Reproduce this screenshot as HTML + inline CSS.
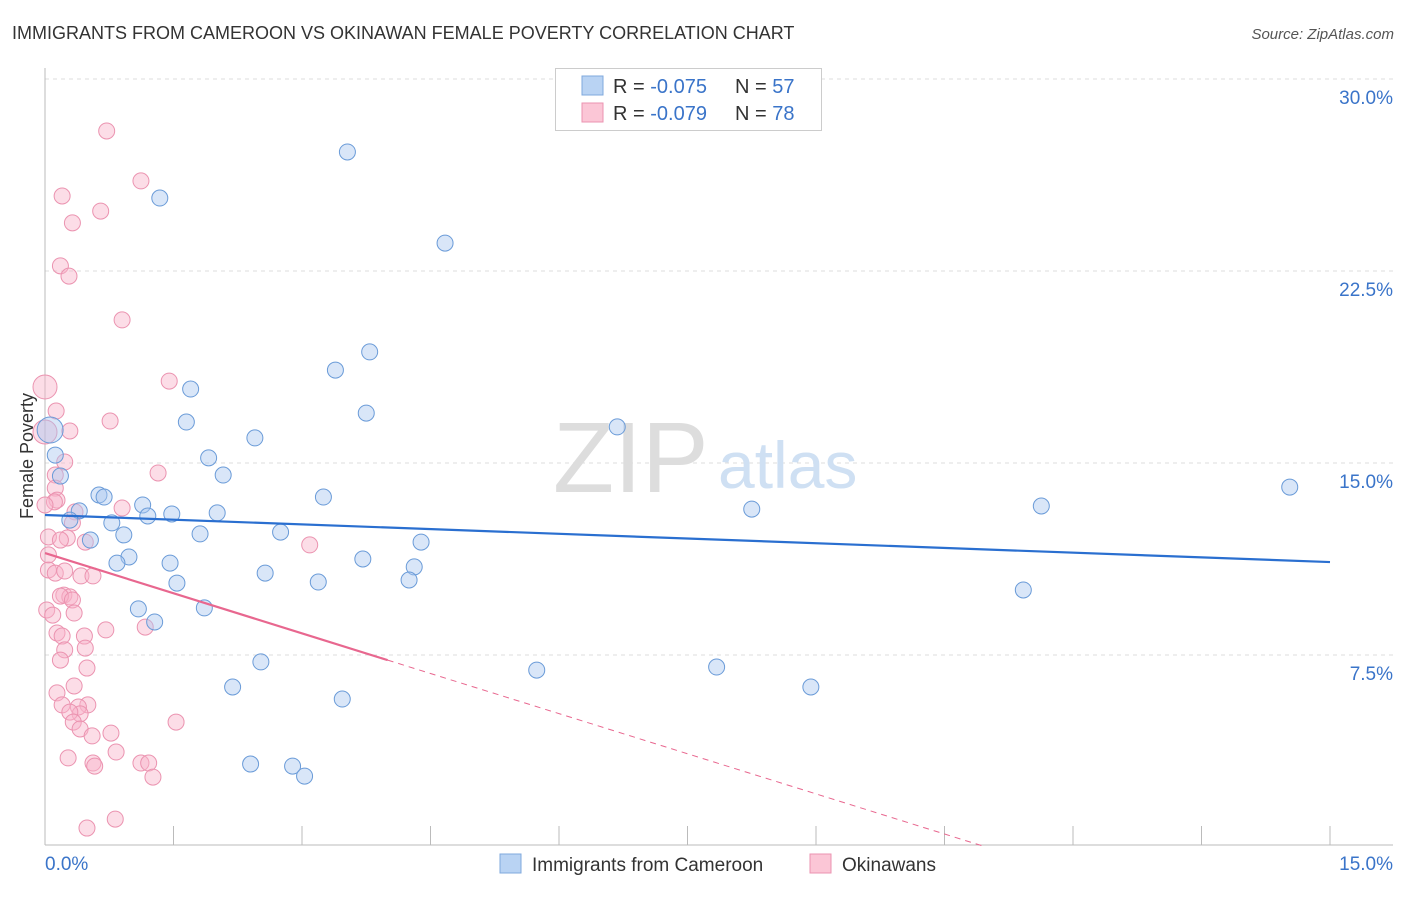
<!DOCTYPE html>
<html><head><meta charset="utf-8">
<style>
body{margin:0;background:#fff;font-family:"Liberation Sans",sans-serif;}
svg text{font-family:"Liberation Sans",sans-serif;}
</style></head>
<body>
<svg id="chart" width="1406" height="892">
<text x="12" y="39" font-size="18" fill="#333">IMMIGRANTS FROM CAMEROON VS OKINAWAN FEMALE POVERTY CORRELATION CHART</text>
<text x="1394" y="39" font-size="15" fill="#555" font-style="italic" text-anchor="end">Source: ZipAtlas.com</text>
<text x="33" y="456" font-size="18" fill="#333" text-anchor="middle" transform="rotate(-90 33 456)">Female Poverty</text>
<g id="grid"></g>
<text x="553" y="492" font-size="100" fill="#ddd" font-family="Liberation Serif">ZIP</text>
<text x="718" y="488" font-size="66" fill="#cfe0f3">atlas</text>
<g id="marks"></g>
<g>
<rect x="555.5" y="68.5" width="266" height="62" fill="#fff" stroke="#ccc"/>
<rect x="582" y="76" width="21" height="19" fill="#b9d3f3" stroke="#7fa8dd"/>
<rect x="582" y="103" width="21" height="19" fill="#fbc6d6" stroke="#eb93b0"/>
<text x="613" y="93" font-size="20" fill="#333">R = <tspan fill="#3a74c9">-0.075</tspan><tspan x="735">N = </tspan><tspan fill="#3a74c9">57</tspan></text>
<text x="613" y="120" font-size="20" fill="#333">R = <tspan fill="#3a74c9">-0.079</tspan><tspan x="735">N = </tspan><tspan fill="#3a74c9">78</tspan></text>
</g>
<g>
<rect x="500" y="854" width="21" height="19" fill="#b9d3f3" stroke="#7fa8dd"/>
<text x="532" y="871" font-size="19" fill="#333">Immigrants from Cameroon</text>
<rect x="810" y="854" width="21" height="19" fill="#fbc6d6" stroke="#eb93b0"/>
<text x="842" y="871" font-size="19" fill="#333">Okinawans</text>
</g>
</svg>
<script>
const yTicks=[7.5,15,22.5,30];
const yTickLabels=["7.5%","15.0%","22.5%","30.0%"];
const xTickLabels=["0.0%","15.0%"];
const blueX=[3.53,1.34,4.67,3.79,3.39,1.70,3.75,1.65,6.68,2.45,1.91,2.08,0.18,0.63,0.69,3.25,1.14,2.01,1.48,1.20,0.40,0.29,0.78,2.75,1.81,0.92,0.53,4.39,0.98,3.71,1.46,0.84,4.31,2.57,4.25,1.54,3.19,1.09,1.86,1.28,2.52,2.19,3.47,5.74,7.84,8.94,2.40,2.89,3.03,8.25,11.63,11.42,14.53,0.12,0.06];
const blueY=[27.15,25.35,23.59,19.34,18.63,17.89,16.95,16.60,16.41,15.98,15.20,14.53,14.49,13.75,13.67,13.67,13.36,13.05,13.01,12.93,13.13,12.77,12.66,12.30,12.23,12.19,11.99,11.91,11.33,11.25,11.09,11.09,10.94,10.70,10.43,10.31,10.35,9.30,9.34,8.79,7.23,6.25,5.78,6.91,7.03,6.25,3.24,3.16,2.77,13.20,13.32,10.04,14.06,15.31,16.29];
const pinkX=[0.72,1.12,0.20,0.65,0.32,0.18,0.28,0.90,1.45,0.0,0.13,0.76,0.0,0.29,0.23,1.32,0.12,0.12,0.14,0.11,0,0.90,0.35,0.32,0.04,0.26,0.47,0.18,3.09,0.04,0.12,0.23,0.42,0.56,0.22,0.29,0.18,0.32,0.02,0.09,0.34,0.71,1.17,0.14,0.20,0.46,0.47,0.23,0.18,0.49,0.34,0.14,0.50,0.39,0.20,0.41,0.29,1.53,0.33,0.41,0.55,0.77,0.83,0.27,0.56,0.58,1.12,1.21,1.26,0.49,0.82,0.04];
const pinkY=[27.97,26.02,25.43,24.84,24.38,22.70,22.30,20.59,18.20,17.97,17.03,16.64,16.21,16.25,15.04,14.61,14.53,14.02,13.55,13.48,13.36,13.24,13.09,12.66,12.11,12.07,11.91,11.99,11.80,10.82,10.70,10.78,10.59,10.59,9.84,9.77,9.80,9.65,9.26,9.06,9.14,8.48,8.59,8.36,8.24,8.24,7.77,7.70,7.30,6.99,6.29,6.02,5.55,5.47,5.55,5.20,5.27,4.88,4.88,4.61,4.34,4.45,3.71,3.48,3.28,3.16,3.28,3.28,2.73,0.74,1.09,11.41];
const blueTrend=[12.97,11.13];
const pinkTrend=[11.48,-1.045];
const NS="http://www.w3.org/2000/svg";
const X=v=>45+v*(1285/15), Y=v=>847-v*25.6;
function mk(tag,attrs,parent){const e=document.createElementNS(NS,tag);for(const k in attrs)e.setAttribute(k,attrs[k]);parent.appendChild(e);return e;}
const grid=document.getElementById('grid'), marks=document.getElementById('marks');
yTicks.forEach((t,i)=>{
  const l=mk('line',{x1:45,x2:1393,y1:Y(t),y2:Y(t),stroke:'#ddd','stroke-dasharray':'4,4'},grid);
  
  
  const tx=mk('text',{x:1393,y:Y(t)+25,'font-size':19,fill:'#3a74c9','text-anchor':'end'},grid);
  tx.textContent=yTickLabels[i];
  
  
});
const ax=mk('line',{x1:45,x2:1393,y1:845,y2:845,stroke:'#bbb'},grid);


const ay=mk('line',{x1:45,x2:45,y1:68,y2:845,stroke:'#bbb'},grid);


for(let i=0;i<=10;i++){const t=mk('line',{x1:X(i*1.5),x2:X(i*1.5),y1:845,y2:826,stroke:'#bbb'},grid);
  
  }
[[0,45,'start'],[15,1393,'end']].forEach((d,i)=>{const t=mk('text',{x:d[1],y:870,'font-size':19,fill:'#3a74c9','text-anchor':d[2]},grid);t.textContent=xTickLabels[i];
  
  });
pinkX.forEach((x,i)=>{const c=mk('circle',{cx:X(x),cy:Y(pinkY[i]),r:(i==9||i==12)?12:8,fill:'rgba(248,180,202,0.45)',stroke:'#eb93b0','stroke-width':1},marks);
  
  });
blueX.forEach((x,i)=>{const c=mk('circle',{cx:X(x),cy:Y(blueY[i]),r:i==blueX.length-1?13:8,fill:'rgba(170,200,240,0.45)',stroke:'#6a9bd8','stroke-width':1},marks);
  
  });
const bl=mk('line',{x1:X(0),y1:Y(blueTrend[0]),x2:X(15),y2:Y(blueTrend[1]),stroke:'#2a6fd0','stroke-width':2.2},marks);


const pe=-pinkTrend[0]/pinkTrend[1];
const ps=mk('line',{x1:X(0),y1:Y(pinkTrend[0]),x2:X(4),y2:Y(pinkTrend[0]+pinkTrend[1]*4),stroke:'#e8678f','stroke-width':2.2},marks);


const pd=mk('line',{x1:X(4),y1:Y(pinkTrend[0]+pinkTrend[1]*4),x2:X(pe),y2:Y(0),stroke:'#e8678f','stroke-width':1,'stroke-dasharray':'6,5'},marks);


</script>
</body></html>
